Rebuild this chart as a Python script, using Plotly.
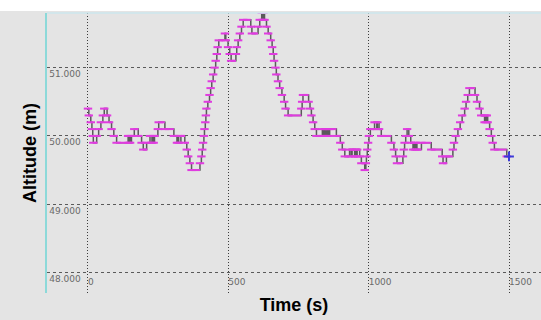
import plotly.graph_objects as go

# Altitude log: time of each level change (s) and the altitude held from then (m)
time_s = [
    0, 3, 10, 14, 17, 19, 31, 38, 46, 53,
    58, 68, 75, 84, 92, 102, 143, 145, 148, 150,
    155, 165, 179, 191, 197, 209, 221, 228, 231, 234,
    237, 249, 252, 274, 306, 317, 320, 323, 331, 345,
    352, 357, 363, 369, 399, 404, 407, 410, 413, 415,
    418, 420, 422, 427, 433, 437, 441, 446, 451, 455,
    459, 462, 466, 488, 491, 499, 505, 510, 527, 530,
    535, 541, 547, 553, 580, 584, 606, 612, 619, 622,
    625, 629, 636, 642, 651, 656, 660, 663, 668, 671,
    677, 683, 691, 699, 704, 713, 760, 763, 766, 786,
    791, 796, 802, 808, 814, 835, 840, 844, 848, 852,
    857, 861, 885, 899, 906, 915, 932, 938, 941, 950,
    953, 956, 959, 968, 974, 986, 990, 992, 995, 998,
    1001, 1006, 1021, 1029, 1031, 1037, 1045, 1081, 1090, 1096,
    1101, 1122, 1125, 1128, 1132, 1137, 1143, 1150, 1158, 1162,
    1165, 1169, 1172, 1188, 1223, 1262, 1265, 1277, 1300, 1304,
    1310, 1318, 1326, 1333, 1342, 1347, 1353, 1359, 1379, 1386,
    1395, 1401, 1413, 1416, 1419, 1421, 1424, 1431, 1437, 1442,
    1448, 1492, 1500,
]
altitude_m = [
    50.4, 50.3, 50.2, 50.1, 50.0, 49.9, 50.0, 50.1, 50.2, 50.3,
    50.4, 50.3, 50.2, 50.1, 50.0, 49.9, 50.0, 49.9, 50.0, 49.9,
    50.0, 50.1, 50.0, 49.9, 49.8, 49.9, 50.0, 49.9, 50.0, 49.9,
    50.0, 50.1, 50.2, 50.1, 50.0, 49.9, 50.0, 49.9, 50.0, 49.9,
    49.8, 49.7, 49.6, 49.5, 49.6, 49.7, 49.8, 49.9, 50.0, 50.1,
    50.2, 50.3, 50.4, 50.5, 50.6, 50.7, 50.8, 50.9, 51.0, 51.1,
    51.2, 51.3, 51.4, 51.5, 51.4, 51.3, 51.2, 51.1, 51.2, 51.3,
    51.4, 51.5, 51.6, 51.7, 51.6, 51.5, 51.6, 51.7, 51.8, 51.7,
    51.8, 51.7, 51.6, 51.5, 51.4, 51.3, 51.2, 51.1, 51.0, 50.9,
    50.8, 50.7, 50.6, 50.5, 50.4, 50.3, 50.4, 50.5, 50.6, 50.5,
    50.4, 50.3, 50.2, 50.1, 50.0, 50.1, 50.0, 50.1, 50.0, 50.1,
    50.0, 50.1, 50.0, 49.9, 49.8, 49.7, 49.8, 49.7, 49.8, 49.7,
    49.8, 49.7, 49.8, 49.7, 49.6, 49.5, 49.6, 49.7, 49.8, 49.9,
    50.0, 50.1, 50.2, 50.1, 50.2, 50.1, 50.0, 49.9, 49.8, 49.7,
    49.6, 49.7, 49.8, 49.9, 50.0, 50.1, 50.0, 49.9, 49.8, 49.9,
    49.8, 49.9, 49.8, 49.9, 49.8, 49.7, 49.6, 49.7, 49.8, 49.9,
    50.0, 50.1, 50.2, 50.3, 50.4, 50.5, 50.6, 50.7, 50.6, 50.5,
    50.4, 50.3, 50.2, 50.3, 50.2, 50.3, 50.2, 50.1, 50.0, 49.9,
    49.8, 49.7, 49.7,
]
assert len(time_s) == len(altitude_m)

x_ticks = [0, 500, 1000, 1500]
y_ticks = [48, 49, 50, 51]

BG = "#e4e4e4"
STEP_COLOR = "#5a5a5a"
LEVEL_COLOR = "#e03ce0"
FONT = "Liberation Sans, Arial, sans-serif"
TICK_FONT = dict(size=9, color="#6a6a6a", family="DejaVu Sans, sans-serif")

# horizontal pieces of each held level
seg_x, seg_y = [], []
for i in range(len(time_s) - 1):
    seg_x += [time_s[i], time_s[i + 1], None]
    seg_y += [altitude_m[i], altitude_m[i], None]

fig = go.Figure()
fig.add_trace(go.Scatter(
    x=time_s, y=altitude_m, mode="lines", line_shape="hv",
    line=dict(color=STEP_COLOR, width=1.5), hoverinfo="skip", showlegend=False,
))
fig.add_trace(go.Scatter(
    x=seg_x, y=seg_y, mode="lines",
    line=dict(color=LEVEL_COLOR, width=2), hoverinfo="skip", showlegend=False,
))
fig.add_trace(go.Scatter(
    x=time_s[:-1], y=altitude_m[:-1], mode="markers",
    marker=dict(symbol="line-ew", size=6, line=dict(color=LEVEL_COLOR, width=2)),
    showlegend=False,
))
fig.add_trace(go.Scatter(
    x=time_s[-1:], y=altitude_m[-1:], mode="markers",
    marker=dict(symbol="cross-thin", size=7, line=dict(color="#3a3ad8", width=2)),
    showlegend=False,
))

fig.update_layout(
    width=541, height=320,
    margin=dict(l=47, r=0, t=13, b=27),
    paper_bgcolor=BG, plot_bgcolor=BG,
    font=dict(family=FONT),
    xaxis=dict(
        range=[-146, 1614], tickvals=x_ticks, ticktext=[str(v) for v in x_ticks],
        showgrid=True, gridcolor="#3c3c3c", griddash="1px,2px", gridwidth=1,
        zeroline=False, showline=False, ticks="",
        ticklabelposition="inside right",
        tickfont=TICK_FONT,
        title=dict(text="Time (s)", standoff=12,
                   font=dict(size=18, color="black", family=FONT, weight="bold")),
    ),
    yaxis=dict(
        range=[47.70, 51.80], tickvals=y_ticks, tickformat=".3f",
        showgrid=True, gridcolor="#5a5a5a", griddash="3px,3px", gridwidth=1,
        zeroline=False, showline=True, linecolor="#8cd9d9", linewidth=2, ticks="",
        ticklabelposition="inside bottom",
        tickfont=TICK_FONT,
        title=dict(text="Altitude (m)", standoff=8,
                   font=dict(size=18, color="black", family=FONT, weight="bold")),
    ),
    shapes=[
        dict(type="rect", xref="paper", yref="paper",
             x0=-0.1, x1=1.01, y0=1 + 2 / 280, y1=1.1,
             fillcolor="white", line=dict(width=0), layer="above"),
        dict(type="line", xref="paper", yref="paper",
             x0=0, x1=1, y0=1, y1=1,
             line=dict(color="#cde7ee", width=1.5)),
    ],
)

fig.write_html("out.html")
